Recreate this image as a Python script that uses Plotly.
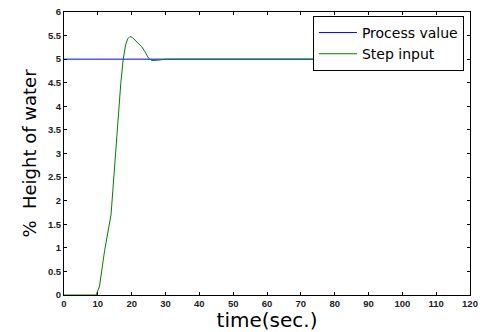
import plotly.graph_objects as go

# Data
t_process = [0, 110]
y_process = [5, 5]

t_step = [0, 9.5, 10.5, 12, 13.9, 14.5, 15.2, 16, 16.8, 17.5, 18.2, 18.8, 19.5,
          20.2, 21, 22, 23, 24, 25, 26, 27, 28, 30, 110]
y_step = [0, 0, 0.19, 0.94, 1.7, 2.3, 3.0, 3.7, 4.5, 5.0, 5.3, 5.43, 5.48,
          5.46, 5.4, 5.33, 5.26, 5.15, 5.02, 4.97, 4.97, 4.98, 5.0, 5.0]

x_ticks = list(range(0, 121, 10))
y_ticks = [0, 0.5, 1, 1.5, 2, 2.5, 3, 3.5, 4, 4.5, 5, 5.5, 6]
y_tick_labels = ["0", "0.5", "1", "1.5", "2", "2.5", "3", "3.5", "4", "4.5", "5", "5.5", "6"]

fig = go.Figure()
fig.add_trace(go.Scatter(x=t_process, y=y_process, mode="lines", name="Process value",
                         line=dict(color="#0000FF", width=1)))
fig.add_trace(go.Scatter(x=t_step, y=y_step, mode="lines", name="Step input",
                         line=dict(color="#008000", width=1)))

axis_common = dict(showline=True, linecolor="black", linewidth=1, mirror="ticks",
                   ticks="inside", ticklen=3, tickcolor="black", showgrid=False,
                   zeroline=False, automargin=False, ticklabeloverflow="allow",
                   tickfont=dict(family="Arial, Liberation Sans", size=9.5, color="#222", weight="bold"))

fig.update_xaxes(range=[0, 120], tickvals=x_ticks,
                 title=dict(text="time(sec.)", font=dict(family="DejaVu Sans", size=20, color="black"),
                            standoff=1),
                 **axis_common)
fig.update_yaxes(range=[0, 6], tickvals=y_ticks, ticktext=y_tick_labels,
                 title=dict(text="%  Height of water", font=dict(family="DejaVu Sans", size=18, color="black"),
                            standoff=6),
                 **axis_common)

fig.update_layout(
    width=480, height=332,
    margin=dict(l=64, r=10, t=12, b=37),
    paper_bgcolor="white", plot_bgcolor="white",
    showlegend=True,
    legend=dict(x=0.985, y=0.986, xanchor="right", yanchor="top",
                bgcolor="white", bordercolor="black", borderwidth=1,
                font=dict(family="DejaVu Sans", size=14, color="black"),
                tracegroupgap=0, itemwidth=38),
)

fig.write_html("out.html", config={"displayModeBar": False},
               post_script="document.body.style.margin='0';")
